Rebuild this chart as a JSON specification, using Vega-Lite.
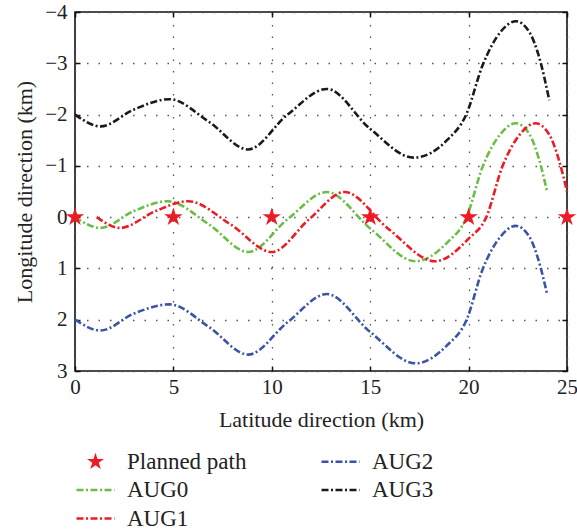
{
  "$schema": "https://vega.github.io/schema/vega-lite/v6.json",
  "width": 492,
  "height": 359,
  "autosize": "none",
  "padding": {"left": 75, "top": 12, "right": 10, "bottom": 158},
  "background": "white",
  "config": {
    "font": "Liberation Serif",
    "view": {"stroke": "#111", "strokeWidth": 1.6},
    "axis": {
      "labelFont": "Liberation Serif",
      "titleFont": "Liberation Serif",
      "labelFontSize": 21,
      "titleFontSize": 22,
      "labelColor": "#222",
      "titleColor": "#222",
      "titleFontWeight": "normal",
      "domain": false,
      "labelFlush": false,
      "tickColor": "#111",
      "tickSize": -5,
      "tickWidth": 1.5,
      "gridColor": "#555",
      "gridDash": [1.5, 10],
      "gridWidth": 1.3,
      "gridOpacity": 1
    }
  },
  "datasets": {
    "curves": [
      {"series": "AUG0", "x": 0, "y": 0},
      {"series": "AUG0", "x": 1.3, "y": 0.21},
      {"series": "AUG0", "x": 3.0, "y": -0.12},
      {"series": "AUG0", "x": 4.7, "y": -0.31},
      {"series": "AUG0", "x": 6.8, "y": 0.14},
      {"series": "AUG0", "x": 8.8, "y": 0.68},
      {"series": "AUG0", "x": 10.8, "y": 0.04},
      {"series": "AUG0", "x": 12.8, "y": -0.49},
      {"series": "AUG0", "x": 15.0, "y": 0.22},
      {"series": "AUG0", "x": 17.3, "y": 0.86},
      {"series": "AUG0", "x": 18.9, "y": 0.5},
      {"series": "AUG0", "x": 19.9, "y": 0.0},
      {"series": "AUG0", "x": 20.7, "y": -0.97},
      {"series": "AUG0", "x": 21.6, "y": -1.61},
      {"series": "AUG0", "x": 22.4, "y": -1.83},
      {"series": "AUG0", "x": 23.1, "y": -1.61},
      {"series": "AUG0", "x": 23.6, "y": -1.1},
      {"series": "AUG0", "x": 24.0, "y": -0.48},
      {"series": "AUG1", "x": 1.1, "y": 0.0},
      {"series": "AUG1", "x": 2.3, "y": 0.21},
      {"series": "AUG1", "x": 4.1, "y": -0.12},
      {"series": "AUG1", "x": 5.75, "y": -0.31},
      {"series": "AUG1", "x": 7.9, "y": 0.14},
      {"series": "AUG1", "x": 10.0, "y": 0.68},
      {"series": "AUG1", "x": 11.9, "y": 0.04},
      {"series": "AUG1", "x": 13.7, "y": -0.49},
      {"series": "AUG1", "x": 15.9, "y": 0.22},
      {"series": "AUG1", "x": 18.3, "y": 0.86},
      {"series": "AUG1", "x": 20.0, "y": 0.42},
      {"series": "AUG1", "x": 20.9, "y": 0.0},
      {"series": "AUG1", "x": 21.7, "y": -0.97},
      {"series": "AUG1", "x": 22.6, "y": -1.61},
      {"series": "AUG1", "x": 23.4, "y": -1.83},
      {"series": "AUG1", "x": 24.1, "y": -1.61},
      {"series": "AUG1", "x": 24.6, "y": -1.1},
      {"series": "AUG1", "x": 25.0, "y": -0.5},
      {"series": "AUG2", "x": 0, "y": 2.0},
      {"series": "AUG2", "x": 1.3, "y": 2.21},
      {"series": "AUG2", "x": 3.0, "y": 1.88},
      {"series": "AUG2", "x": 4.8, "y": 1.7},
      {"series": "AUG2", "x": 6.8, "y": 2.14},
      {"series": "AUG2", "x": 8.8, "y": 2.68},
      {"series": "AUG2", "x": 10.8, "y": 2.05},
      {"series": "AUG2", "x": 12.8, "y": 1.5},
      {"series": "AUG2", "x": 15.0, "y": 2.24},
      {"series": "AUG2", "x": 17.3, "y": 2.85},
      {"series": "AUG2", "x": 18.9, "y": 2.5},
      {"series": "AUG2", "x": 19.9, "y": 2.0},
      {"series": "AUG2", "x": 20.7, "y": 1.03},
      {"series": "AUG2", "x": 21.6, "y": 0.39},
      {"series": "AUG2", "x": 22.4, "y": 0.17},
      {"series": "AUG2", "x": 23.1, "y": 0.39},
      {"series": "AUG2", "x": 23.6, "y": 0.9},
      {"series": "AUG2", "x": 24.0, "y": 1.52},
      {"series": "AUG3", "x": 0, "y": -2.0},
      {"series": "AUG3", "x": 1.3, "y": -1.77},
      {"series": "AUG3", "x": 3.0, "y": -2.1},
      {"series": "AUG3", "x": 4.8, "y": -2.3},
      {"series": "AUG3", "x": 6.8, "y": -1.86},
      {"series": "AUG3", "x": 8.8, "y": -1.32},
      {"series": "AUG3", "x": 10.8, "y": -2.0},
      {"series": "AUG3", "x": 12.8, "y": -2.5},
      {"series": "AUG3", "x": 15.0, "y": -1.72},
      {"series": "AUG3", "x": 17.2, "y": -1.16},
      {"series": "AUG3", "x": 18.9, "y": -1.5},
      {"series": "AUG3", "x": 19.9, "y": -2.02},
      {"series": "AUG3", "x": 20.7, "y": -2.95},
      {"series": "AUG3", "x": 21.6, "y": -3.6},
      {"series": "AUG3", "x": 22.4, "y": -3.82},
      {"series": "AUG3", "x": 23.1, "y": -3.6},
      {"series": "AUG3", "x": 23.6, "y": -3.1},
      {"series": "AUG3", "x": 24.1, "y": -2.28}
    ],
    "stars": [
      {"series": "Planned path", "x": 0, "y": 0},
      {"series": "Planned path", "x": 5, "y": 0},
      {"series": "Planned path", "x": 10, "y": 0},
      {"series": "Planned path", "x": 15, "y": 0},
      {"series": "Planned path", "x": 20, "y": 0},
      {"series": "Planned path", "x": 25, "y": 0}
    ]
  },
  "layer": [
    {
      "data": {"name": "curves"},
      "mark": {"type": "line", "interpolate": "monotone", "strokeWidth": 2.6, "strokeDash": [7, 2.5, 2, 2.5]},
      "encoding": {
        "x": {
          "field": "x", "type": "quantitative",
          "scale": {"domain": [0, 25], "nice": false, "zero": false},
          "axis": {"values": [0, 5, 10, 15, 20, 25], "title": "Latitude direction (km)", "grid": true, "labelPadding": 10, "titlePadding": 12}
        },
        "y": {
          "field": "y", "type": "quantitative",
          "scale": {"domain": [-4, 3], "reverse": true, "nice": false, "zero": false},
          "axis": {"values": [-4, -3, -2, -1, 0, 1, 2, 3], "title": "Longitude direction (km)", "grid": true, "labelPadding": 13, "titlePadding": 8}
        },
        "color": {
          "field": "series", "type": "nominal",
          "scale": {
            "domain": ["Planned path", "AUG0", "AUG1", "AUG2", "AUG3"],
            "range": ["#ed1c24", "#6abd45", "#ed1c24", "#3a55a5", "#1a1a1a"]
          },
          "legend": {
            "title": null,
            "orient": "none",
            "legendX": 0,
            "legendY": 438,
            "columns": 2,
            "columnPadding": 69,
            "rowPadding": 4.5,
            "padding": 0,
            "symbolType": "stroke",
            "symbolSize": 1444,
            "symbolOffset": 9,
            "symbolStrokeWidth": 2.5,
            "labelFont": "Liberation Serif",
            "labelFontSize": 23,
            "labelColor": "#222",
            "labelOffset": 20,
            "encode": {
              "symbols": {
                "update": {
                  "shape": {"signal": "datum.value === 'Planned path' ? 'M0,-1L0.225,-0.309L0.951,-0.309L0.363,0.118L0.588,0.809L0,0.382L-0.588,0.809L-0.363,0.118L-0.951,-0.309L-0.225,-0.309Z' : 'stroke'"},
                  "size": {"signal": "datum.value === 'Planned path' ? 320 : 1444"},
                  "strokeDash": {"signal": "datum.value === 'Planned path' ? [1, 0] : [7, 2.5, 2, 2.5]"},
                  "fill": {"signal": "datum.value === 'Planned path' ? '#ed1c24' : 'transparent'"},
                  "stroke": {"signal": "scale('color', datum.value)"},
                  "strokeWidth": {"signal": "datum.value === 'Planned path' ? 0 : 2.5"},
                  "opacity": {"value": 1}
                }
              }
            }
          }
        }
      }
    },
    {
      "data": {"name": "stars"},
      "mark": {"type": "point", "shape": "M0,-1L0.225,-0.309L0.951,-0.309L0.363,0.118L0.588,0.809L0,0.382L-0.588,0.809L-0.363,0.118L-0.951,-0.309L-0.225,-0.309Z", "filled": true, "size": 380, "opacity": 1},
      "encoding": {
        "x": {
          "field": "x", "type": "quantitative",
          "axis": {"orient": "top", "values": [0, 5, 10, 15, 20, 25], "labels": false, "title": null, "grid": false}
        },
        "y": {
          "field": "y", "type": "quantitative",
          "axis": {"orient": "right", "values": [-4, -3, -2, -1, 0, 1, 2, 3], "labels": false, "title": null, "grid": false}
        },
        "color": {"field": "series", "type": "nominal"}
      }
    }
  ],
  "resolve": {"axis": {"x": "independent", "y": "independent"}}
}
